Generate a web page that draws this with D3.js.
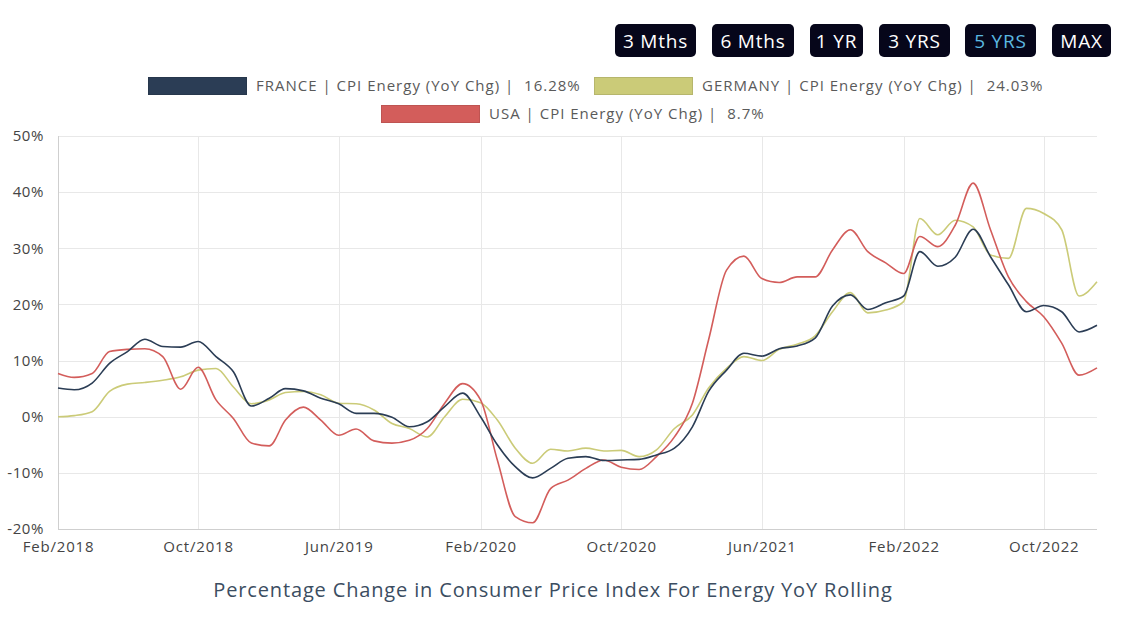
<!DOCTYPE html>
<html>
<head>
<meta charset="utf-8">
<script src="https://cdn.jsdelivr.net/npm/d3@7"></script>
<style>
  html, body { margin: 0; padding: 0; background: #ffffff; }
  svg { display: block; font-family: "Open Sans", "Noto Sans", sans-serif; }
  text { white-space: pre; }
</style>
</head>
<body>
<svg id="chart" width="1124" height="624"></svg>
<script>
const months = [
  "2018-02","2018-03","2018-04","2018-05","2018-06","2018-07","2018-08","2018-09","2018-10","2018-11","2018-12",
  "2019-01","2019-02","2019-03","2019-04","2019-05","2019-06","2019-07","2019-08","2019-09","2019-10","2019-11","2019-12",
  "2020-01","2020-02","2020-03","2020-04","2020-05","2020-06","2020-07","2020-08","2020-09","2020-10","2020-11","2020-12",
  "2021-01","2021-02","2021-03","2021-04","2021-05","2021-06","2021-07","2021-08","2021-09","2021-10","2021-11","2021-12",
  "2022-01","2022-02","2022-03","2022-04","2022-05","2022-06","2022-07","2022-08","2022-09","2022-10","2022-11","2022-12",
  "2023-01"
];
const france = [
  5.1, 4.8, 6.0, 9.5, 11.6, 13.8, 12.5, 12.4, 13.4, 10.7, 8.0,
  1.9, 3.3, 5.0, 4.6, 3.3, 2.3, 0.6, 0.6, -0.1, -1.8, -0.9, 1.8,
  4.2, 0.0, -5.0, -8.9, -10.9, -9.2, -7.4, -7.1, -7.8, -7.7, -7.6, -6.8,
  -5.6, -1.8, 4.5, 8.3, 11.3, 10.8, 12.1, 12.6, 14.0, 19.7, 21.7, 19.1,
  20.3, 21.5, 29.4, 26.8, 28.4, 33.4, 28.5, 23.5, 18.7, 19.8, 18.7, 15.1,
  16.28
];
const germany = [
  0.0, 0.2, 0.9, 4.5, 5.8, 6.1, 6.5, 7.1, 8.3, 8.6, 5.3,
  2.3, 3.0, 4.3, 4.5, 3.9, 2.4, 2.3, 1.2, -1.2, -2.1, -3.6, 0.0,
  3.1, 2.5, -0.6, -5.6, -8.3, -5.8, -6.1, -5.6, -6.1, -6.0, -7.1, -5.9,
  -2.1, 0.3, 5.1, 8.6, 10.7, 10.0, 12.0, 12.9, 14.4, 18.7, 22.1, 18.5,
  19.0, 20.5, 35.3, 32.4, 35.0, 33.8, 28.8, 28.2, 37.1, 36.2, 33.3, 21.5,
  24.03
];
const usa = [
  7.7, 7.0, 7.7, 11.6, 12.0, 12.1, 10.7, 4.9, 8.8, 3.0, -0.3,
  -4.7, -5.2, -0.6, 1.7, -0.6, -3.3, -2.2, -4.3, -4.7, -4.2, -2.1, 2.4,
  5.9, 3.0, -7.7, -17.8, -18.9, -12.8, -11.3, -9.2, -7.7, -9.0, -9.4, -7.1,
  -3.6, 2.4, 13.7, 26.1, 28.6, 24.6, 23.9, 24.9, 24.9, 29.7, 33.3, 29.4,
  27.4, 25.5, 32.1, 30.3, 34.1, 41.6, 33.3, 24.9, 20.5, 17.8, 13.1, 7.4,
  8.7
];
const seriesNames = ["FRANCE | CPI Energy (YoY Chg) |  16.28%", "GERMANY | CPI Energy (YoY Chg) |  24.03%", "USA | CPI Energy (YoY Chg) |  8.7%"];
const seriesColors = ["#2b3d55", "#cbcb78", "#d35d5b"];
const xTickMonths = ["2018-02","2018-10","2019-06","2020-02","2020-10","2021-06","2022-02","2022-10"];
const xTickLabels = ["Feb/2018","Oct/2018","Jun/2019","Feb/2020","Oct/2020","Jun/2021","Feb/2022","Oct/2022"];
const yTicks = [-20, -10, 0, 10, 20, 30, 40, 50];
const buttons = ["3 Mths", "6 Mths", "1 YR", "3 YRS", "5 YRS", "MAX"];
const activeButton = "5 YRS";
const title = "Percentage Change in Consumer Price Index For Energy YoY Rolling";

const parse = d3.timeParse("%Y-%m");
const dates = months.map(parse);
const svg = d3.select("#chart");

const plot = { left: 58, right: 1097, top: 136, bottom: 529 };
const x = d3.scaleTime().domain(d3.extent(dates)).range([plot.left, plot.right]);
const y = d3.scaleLinear().domain([-20, 50]).range([plot.bottom, plot.top]);

// Buttons
const btnG = svg.append("g");
const btnLayout = [[615, 81], [712, 82], [810, 53], [879, 71], [965, 71], [1052, 59]];
buttons.forEach((b, i) => {
  const [bx, bw] = btnLayout[i];
  btnG.append("rect").attr("x", bx).attr("y", 24).attr("width", bw).attr("height", 33)
    .attr("rx", 5).attr("fill", "#06061a");
  btnG.append("text").attr("x", bx + bw / 2).attr("y", 47.5).attr("text-anchor", "middle")
    .attr("font-size", 19).attr("letter-spacing", 0.8)
    .attr("fill", b === activeButton ? "#5bb8e0" : "#ffffff").text(b);
});

// Legend
const legendLayout = [[148, 77, 256], [594, 77, 702], [381, 105, 489]];
seriesNames.forEach((n, i) => {
  const [sx, sy, tx] = legendLayout[i];
  svg.append("rect").attr("x", sx + 0.5).attr("y", sy + 0.5).attr("width", 98).attr("height", 17)
    .attr("fill", seriesColors[i]).attr("stroke", d3.color(seriesColors[i]).darker(0.3)).attr("stroke-width", 1);
  svg.append("text").attr("x", tx).attr("y", sy + 14).attr("font-size", 15).attr("letter-spacing", 1.0)
    .attr("fill", "#5a5a5a").text(n);
});

// Grid
const grid = svg.append("g");
grid.selectAll(".hg").data(yTicks).join("line")
  .attr("x1", plot.left).attr("x2", plot.right)
  .attr("y1", d => Math.round(y(d)) + 0.5).attr("y2", d => Math.round(y(d)) + 0.5)
  .attr("stroke", d => d === -20 ? "#cfcfcf" : "#e8e8e8").attr("stroke-width", 1);
grid.selectAll(".vg").data(xTickMonths.map(parse)).join("line")
  .attr("x1", d => Math.round(x(d)) + 0.5).attr("x2", d => Math.round(x(d)) + 0.5)
  .attr("y1", plot.top).attr("y2", plot.bottom)
  .attr("stroke", (d, i) => i === 0 ? "#cfcfcf" : "#e8e8e8").attr("stroke-width", 1);

// Y axis labels
const yAxis = d3.axisLeft(y).tickValues(yTicks).tickSize(0).tickPadding(14).tickFormat(d => d + "%");
svg.append("g").attr("transform", `translate(${plot.left},0)`).call(yAxis)
  .call(g => g.select(".domain").remove())
  .call(g => g.selectAll("text").attr("font-size", 15).attr("letter-spacing", 0.6).attr("fill", "#444").attr("font-family", "Open Sans, sans-serif"));

// X axis labels
const xAxis = d3.axisBottom(x).tickValues(xTickMonths.map(parse)).tickSize(0).tickPadding(12)
  .tickFormat((d, i) => xTickLabels[i]);
svg.append("g").attr("transform", `translate(0,${plot.bottom})`).call(xAxis)
  .call(g => g.select(".domain").remove())
  .call(g => g.selectAll("text").attr("font-size", 15).attr("letter-spacing", 0.8).attr("fill", "#444").attr("font-family", "Open Sans, sans-serif"));

// Lines
const allSeries = [germany, usa, france];
const allColors = [seriesColors[1], seriesColors[2], seriesColors[0]];
const line = d3.line().x((d, i) => x(dates[i])).y(d => y(d)).curve(d3.curveMonotoneX);
allSeries.forEach((s, k) => {
  svg.append("path").datum(s).attr("d", line).attr("fill", "none")
    .attr("stroke", allColors[k]).attr("stroke-width", 1.6).attr("stroke-linejoin", "round");
});

// Title
svg.append("text").attr("x", 553).attr("y", 597).attr("text-anchor", "middle")
  .attr("font-size", 20).attr("letter-spacing", 0.85).attr("fill", "#3b4d61").text(title);
</script>
</body>
</html>
